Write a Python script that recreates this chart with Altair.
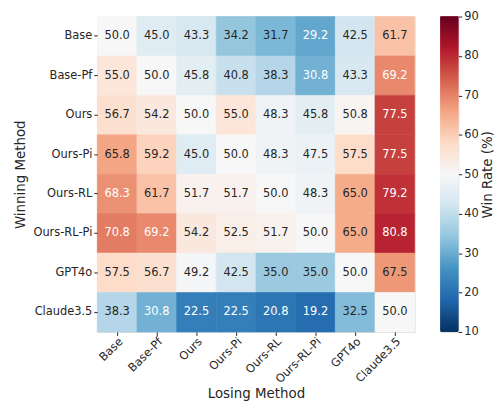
import altair as alt
import pandas as pd
import numpy as np

methods = ["Base", "Base-Pf", "Ours", "Ours-Pi", "Ours-RL", "Ours-RL-Pi", "GPT4o", "Claude3.5"]
row_base = [50.0, 45.0, 43.3, 34.2, 31.7, 29.2, 42.5, 61.7]
row_basepf = [55.0, 50.0, 45.8, 40.8, 38.3, 30.8, 43.3, 69.2]
row_ours = [56.7, 54.2, 50.0, 55.0, 48.3, 45.8, 50.8, 77.5]
row_ourspi = [65.8, 59.2, 45.0, 50.0, 48.3, 47.5, 57.5, 77.5]
row_oursrl = [68.3, 61.7, 51.7, 51.7, 50.0, 48.3, 65.0, 79.2]
row_oursrlpi = [70.8, 69.2, 54.2, 52.5, 51.7, 50.0, 65.0, 80.8]
row_gpt4o = [57.5, 56.7, 49.2, 42.5, 35.0, 35.0, 50.0, 67.5]
row_claude = [38.3, 30.8, 22.5, 22.5, 20.8, 19.2, 32.5, 50.0]
rows = [row_base, row_basepf, row_ours, row_ourspi, row_oursrl, row_oursrlpi, row_gpt4o, row_claude]

cbar_ticks = [10, 20, 30, 40, 50, 60, 70, 80, 90]

records = []
for w, vals in zip(methods, rows):
    for l, v in zip(methods, vals):
        records.append({"winner": w, "loser": l, "rate": v, "label": f"{v:.1f}"})
df = pd.DataFrame(records)

rdbu_r = ["#053061", "#2166ac", "#4393c3", "#92c5de", "#d1e5f0", "#f7f7f7",
          "#fddbc7", "#f4a582", "#d6604d", "#b2182b", "#67001f"]
stops = list(np.linspace(10, 90, 11))
cscale = alt.Scale(domain=stops, range=rdbu_r, interpolate="rgb")

FONT = "DejaVu Sans"
TXT = "#262626"

base = alt.Chart(df).encode(
    x=alt.X("loser:N", sort=methods, title="Losing Method",
            axis=alt.Axis(labelAngle=-45, labelAlign="right", labelBaseline="top",
                          labelFontSize=11.5, titleFontSize=13.5, labelColor=TXT,
                          titleColor=TXT, tickSize=3.5, tickColor=TXT, domain=False,
                          labelPadding=0, titlePadding=1, titleFontWeight="normal",
                          labelFont=FONT, titleFont=FONT)),
    y=alt.Y("winner:N", sort=methods, title="Winning Method",
            axis=alt.Axis(labelFontSize=11.5, titleFontSize=13.5, labelColor=TXT,
                          titleColor=TXT, tickSize=3.5, tickColor=TXT, domain=False,
                          labelPadding=2, titlePadding=5, titleFontWeight="normal",
                          labelFont=FONT, titleFont=FONT)),
)

rects = base.mark_rect(strokeWidth=0.6, opacity=1).encode(
    color=alt.Color("rate:Q", scale=cscale, legend=None),
    stroke=alt.Stroke("rate:Q", scale=cscale, legend=None),
)
texts = base.mark_text(font=FONT, fontSize=11.5).encode(
    text="label:N",
    color=alt.condition("datum.rate >= 68 || datum.rate <= 31",
                        alt.value("white"), alt.value(TXT)),
)
heat = (rects + texts).properties(width=320, height=318)

cb_vals = np.arange(10, 90, 0.25)
cb = pd.DataFrame({"v0": cb_vals, "v1": np.minimum(cb_vals + 0.75, 90), "vm": cb_vals + 0.125})
cbar = alt.Chart(cb).mark_rect(strokeWidth=0, opacity=1).encode(
    x=alt.value(0), x2=alt.value(18),
    y=alt.Y("v0:Q", scale=alt.Scale(domain=[10, 90], nice=False, zero=False),
            title="Win Rate (%)",
            axis=alt.Axis(orient="right", values=cbar_ticks, tickSize=3.5, tickColor=TXT,
                          labelFontSize=11.5, titleFontSize=13.5, labelColor=TXT,
                          titleColor=TXT, domain=False, grid=False, labelPadding=2,
                          titlePadding=2, titleAngle=270, titleBaseline="top",
                          titleFontWeight="normal",
                          labelFont=FONT, titleFont=FONT)),
    y2="v1:Q",
    color=alt.Color("vm:Q", scale=cscale, legend=None),
).properties(width=18, height=318)

chart = alt.hconcat(heat, cbar, spacing=24).resolve_scale(color="independent").configure_view(
    stroke=None).configure(font=FONT, background="white",
                           padding={"left": 5, "top": 0, "right": 0, "bottom": 0})

chart.save("out.html", embed_options={"renderer": "svg", "actions": False})
